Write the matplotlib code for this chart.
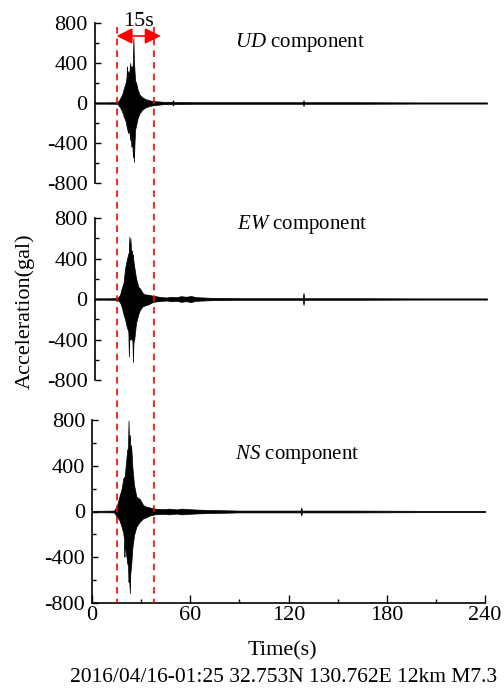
import matplotlib
matplotlib.use("Agg")
import matplotlib.pyplot as plt
import matplotlib.transforms as mtransforms
from matplotlib.lines import Line2D
from matplotlib.patches import FancyArrowPatch
from matplotlib.ticker import MultipleLocator

plt.rcParams["font.family"] = "Liberation Serif"
plt.rcParams["mathtext.fontset"] = "custom"
plt.rcParams["mathtext.rm"] = "Liberation Serif"
plt.rcParams["mathtext.it"] = "Liberation Serif:italic"

# ── DATA: acceleration envelopes (gal) ─────────────────────────────
ud_t = [0, 14, 15.5, 17, 18, 19, 19.6, 19.8, 20.0, 20.6, 21.2, 21.8, 22.1, 22.6, 23.1, 23.5, 23.8,
        24.1, 24.5, 24.9, 25.5, 26.3, 27.5, 29, 31, 34, 37, 42, 47.5, 48, 48.5, 60, 90,
        127.3, 127.8, 128.3, 160, 200, 240]
ud_hi = [6, 8, 40, 90, 150, 200, 260, 365, 240, 320, 280, 400, 330, 370, 330, 420, 650,
         430, 310, 220, 200, 140, 85, 60, 40, 25, 18, 12, 12, 28, 12, 8, 8,
         8, 28, 8, 8, 6, 6]
ud_lo = [-6, -8, -40, -90, -140, -180, -230, -250, -260, -300, -270, -370, -330, -440, -400, -540, -480,
         -590, -380, -260, -220, -155, -105, -70, -45, -28, -20, -12, -12, -25, -12, -8, -8,
         -8, -28, -8, -8, -6, -6]

ew_t = [0, 14, 15.6, 16.6, 17.7, 18.7, 19.7, 20.7, 21.0, 21.3, 21.6, 22.0, 22.3, 22.9, 23.2, 23.5,
        23.8, 24.3, 25.4, 26.8, 27.8, 29.4, 30.9, 32.9, 35, 37, 40, 44, 47, 50, 53, 56, 59, 62,
        71, 90, 127.3, 127.8, 128.3, 160, 200, 240]
ew_hi = [6, 8, 40, 105, 155, 300, 385, 450, 460, 615, 450, 600, 470, 480, 420, 435,
         380, 320, 205, 120, 105, 60, 45, 43, 35, 30, 20, 15, 22, 18, 28, 22, 30, 18,
         12, 8, 8, 60, 8, 8, 6, 6]
ew_lo = [-6, -8, -33, -76, -150, -200, -273, -323, -570, -380, -400, -400, -390, -400, -420, -625,
         -430, -400, -235, -150, -108, -73, -63, -53, -35, -25, -20, -15, -22, -18, -28, -22, -30, -18,
         -12, -8, -8, -60, -8, -8, -6, -6]

ns_t = [0, 13.5, 15.1, 16.7, 18.1, 19.1, 19.6, 19.8, 20.0, 20.5, 21.5, 22.0, 22.3, 22.6, 23.1,
        23.4, 23.9, 24.7, 25.7, 27.1, 29.1, 31.2, 33.2, 35.3, 38.3, 43.4, 47, 51.5, 55, 59.6,
        67.7, 90, 127.3, 127.8, 128.3, 160, 200, 240]
ns_hi = [6, 8, 45, 130, 200, 290, 300, 305, 300, 390, 540, 560, 795, 600, 670,
         560, 580, 380, 230, 130, 110, 57, 42, 35, 25, 20, 25, 18, 25, 20,
         15, 8, 8, 35, 8, 8, 6, 6]
ns_lo = [-6, -8, -45, -75, -135, -190, -250, -395, -260, -335, -450, -480, -615, -560, -715,
         -540, -475, -310, -205, -133, -90, -61, -50, -35, -25, -20, -25, -18, -25, -20,
         -15, -8, -8, -35, -8, -8, -6, -6]

window_start, window_end, arrow_end = 15, 38, 42
yticks = [-800, -400, 0, 400, 800]
xticks = [0, 60, 120, 180, 240]

# ── FIGURE ────────────────────────────────────────────────────
W, H = 504, 696
fig = plt.figure(figsize=(W / 100, H / 100), dpi=100)

def px_axes(left, right, top, bottom):
    return fig.add_axes([left / W, 1 - bottom / H, (right - left) / W, (bottom - top) / H])

ax1 = px_axes(94.5, 487, 23, 183)
ax2 = px_axes(94.5, 487, 218, 380)
ax3 = px_axes(92, 485, 420, 603)

traces = [(ax1, ud_t, ud_hi, ud_lo), (ax2, ew_t, ew_hi, ew_lo), (ax3, ns_t, ns_hi, ns_lo)]
for ax, t, hi, lo in traces:
    ax.fill_between(t, lo, hi, color="black", linewidth=0.5)
    ax.set_xlim(0, 240)
    ax.set_ylim(-800, 800)
    ax.set_yticks(yticks)
    ax.set_yticklabels([str(v) for v in yticks])
    ax.yaxis.set_minor_locator(MultipleLocator(200))
    ax.tick_params(axis="y", which="major", direction="in", length=4, width=1.0,
                   labelsize=16, pad=5)
    ax.tick_params(axis="y", which="minor", direction="in", length=2.8, width=1.0)
    for s in ["top", "right"]:
        ax.spines[s].set_visible(False)
    ax.spines["left"].set_linewidth(1.2)
    ax.patch.set_visible(False)

for ax in (ax1, ax2):
    ax.spines["bottom"].set_visible(False)
    ax.set_xticks([])

ax3.spines["bottom"].set_linewidth(1.2)
ax3.set_xticks(xticks)
ax3.xaxis.set_minor_locator(MultipleLocator(30))
ax3.tick_params(axis="x", which="major", direction="in", length=6, width=1.0,
                labelsize=16, pad=2)
ax3.tick_params(axis="x", which="minor", direction="in", length=3, width=1.0)

# component labels
fig.text(235 / W, 1 - 42 / H, r"$UD$ component", fontsize=15, va="center")
fig.text(237 / W, 1 - 225 / H, r"$EW$ component", fontsize=15, va="center")
fig.text(235 / W, 1 - 455 / H, r"$NS$ component", fontsize=15, va="center")

# axis labels
fig.text(25 / W, 1 - 311 / H, "Acceleration(gal)", rotation=90, fontsize=16,
         ha="center", va="center")
fig.text(282 / W, 1 - 651 / H, "Time(s)", fontsize=16, ha="center", va="center")
fig.text(284 / W, 1 - 678 / H, "2016/04/16-01:25 32.753N 130.762E 12km M7.3",
         fontsize=15.5, ha="center", va="center")

# red window markers across all panels
blend = mtransforms.blended_transform_factory(ax3.transData, fig.transFigure)
for xv in (window_start, window_end):
    fig.add_artist(Line2D([xv, xv], [1 - 27 / H, 1 - 603 / H], transform=blend,
                          color="#ff0000", lw=1.2, linestyle=(0, (4, 3))))
arrow = FancyArrowPatch((window_start, 1 - 36 / H), (arrow_end, 1 - 36 / H),
                        transform=blend, color="#ff0000", lw=1.2,
                        arrowstyle="<|-|>,head_length=0.8,head_width=0.4",
                        mutation_scale=12, shrinkA=0, shrinkB=0)
fig.add_artist(arrow)
fig.text((window_start + arrow_end) / 2, 1 - 21 / H, "15s", transform=blend,
         fontsize=16, ha="center", va="center")

fig.savefig("out.png", dpi=100)
